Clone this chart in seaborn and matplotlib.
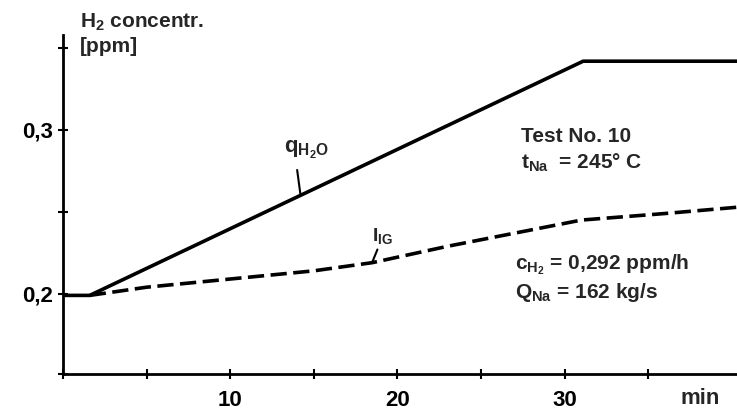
import pandas as pd
import matplotlib
matplotlib.use("Agg")
import matplotlib.pyplot as plt
import numpy as np
import seaborn as sns

# data
q_time = [0, 1.6, 31.1, 40.5]
q_conc = [0.199, 0.199, 0.342, 0.342]
i_time = [1.6, 5, 10, 15, 18.5, 23, 26, 31, 36, 40.5]
i_conc = [0.199, 0.204, 0.209, 0.214, 0.219, 0.229, 0.235, 0.245, 0.249, 0.253]
x_ticks = [10, 20, 30]
y_ticks = [0.2, 0.3]
y_ticklabels = ['0,2', '0,3']

df_q = pd.DataFrame({'t': q_time, 'c': q_conc})
df_i = pd.DataFrame({'t': i_time, 'c': i_conc})

sns.set_style('ticks')
plt.rcParams['font.family'] = ['Liberation Sans', 'DejaVu Sans']
plt.rcParams['font.weight'] = 'bold'
plt.rcParams['mathtext.fontset'] = 'custom'
plt.rcParams['mathtext.rm'] = 'Liberation Sans:bold'
plt.rcParams['mathtext.it'] = 'Liberation Sans:bold'
plt.rcParams['mathtext.bf'] = 'Liberation Sans:bold'

fig = plt.figure(figsize=(7.37, 4.15), dpi=100)
ax = fig.add_axes([63 / 737, 1 - 374 / 415, 1 - 63 / 737, (374 - 35) / 415])

sns.lineplot(data=df_q, x='t', y='c', ax=ax, color='black', lw=2.6)
sns.lineplot(data=df_i, x='t', y='c', ax=ax, color='black', lw=2.6)
ax.lines[1].set_dashes([4.5, 1.8])

ax.set_xlim(0, 40.3)
ax.set_ylim(0.151, 0.358)
sns.despine(ax=ax)
for s in ['left', 'bottom']:
    ax.spines[s].set_linewidth(2)
    ax.spines[s].set_color('black')

ax.set_xticks(x_ticks)
ax.set_xticks([0, 5, 15, 25, 35], minor=True)
ax.set_yticks(y_ticks)
ax.set_yticklabels(y_ticklabels)
ax.set_yticks([0.151, 0.25, 0.35], minor=True)
ax.tick_params(which='both', direction='inout', length=7, width=1.5, colors='black',
               labelsize=16)
ax.tick_params(axis='x', pad=8)
for lab in ax.get_xticklabels() + ax.get_yticklabels():
    lab.set_fontweight('bold')
ax.set_xlabel('')
ax.set_ylabel('')
ax.grid(False)

# annotations
fs = 15
fig.text(80 / 737, 1 - 22 / 415, r'H$_2$ concentr.', fontsize=fs, va='center')
fig.text(80 / 737, 1 - 47 / 415, '[ppm]', fontsize=fs, va='center')
fig.text(680 / 737, 1 - 398 / 415, 'min', fontsize=16, va='center')

ax.text(13.2, 0.288, r'q$_{\mathrm{H_2O}}$', fontsize=16, va='center')
ax.plot([14.0, 14.2], [0.2756, 0.2604], color='black', lw=1.5)
ax.text(18.5, 0.235, r'I$_{\mathrm{IG}}$', fontsize=14, va='center')
ax.plot([18.8, 18.5], [0.227, 0.2195], color='black', lw=1.5)

ax.text(27.4, 0.296, 'Test No. 10', fontsize=fs, va='center')
ax.text(27.4, 0.28, r't$_{\mathrm{Na}}$  = 245° C', fontsize=fs, va='center')
ax.text(27.0, 0.2177, r'c$_{\mathrm{H_2}}$ = 0,292 ppm/h', fontsize=fs, va='center')
ax.text(27.0, 0.201, r'Q$_{\mathrm{Na}}$ = 162 kg/s', fontsize=fs, va='center')

fig.savefig('out.png', dpi=100)
